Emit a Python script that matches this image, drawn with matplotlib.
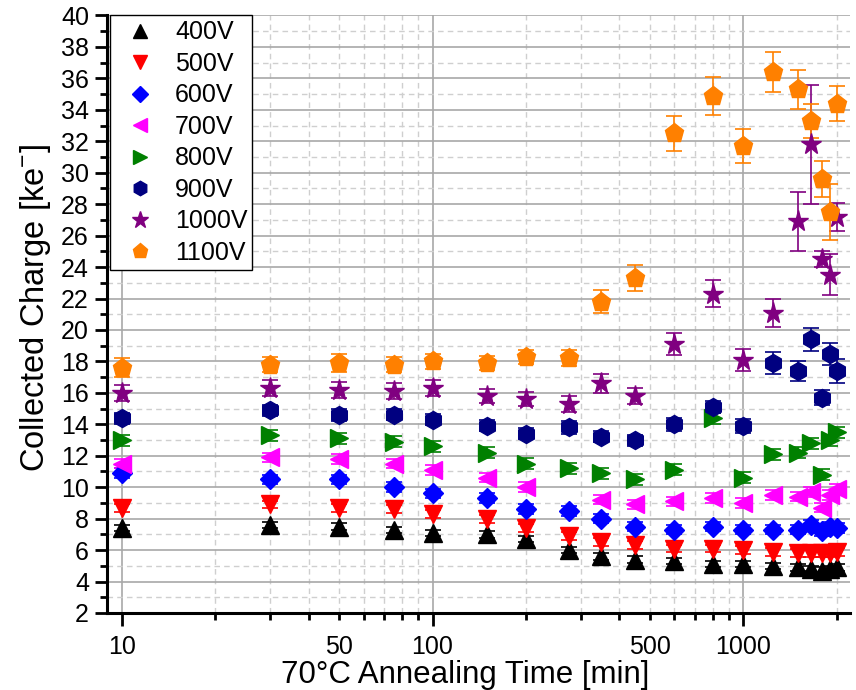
import numpy as np
import matplotlib
matplotlib.use("Agg")
import matplotlib.pyplot as plt
from matplotlib.lines import Line2D
from matplotlib.ticker import FixedLocator, FuncFormatter

plt.rcParams['font.family'] = ['Liberation Sans', 'DejaVu Sans']
plt.rcParams['mathtext.default'] = 'regular'

times = [10, 30, 50, 75, 100, 150, 200, 275, 350, 450, 600, 800, 1000, 1250, 1500, 1650, 1800, 1900, 2000]
nan = np.nan
q400 = [7.4, 7.6, 7.5, 7.3, 7.1, 7.0, 6.7, 6.0, 5.6, 5.4, 5.3, 5.1, 5.1, 5.0, 4.9, 4.8, 4.7, 4.8, 4.9]
q500 = [8.7, 8.9, 8.7, 8.6, 8.3, 8.0, 7.4, 6.9, 6.5, 6.3, 6.1, 6.1, 6.0, 5.9, 5.8, 5.8, 5.8, 5.8, 5.9]
q600 = [10.9, 10.5, 10.5, 10.0, 9.6, 9.3, 8.6, 8.5, 8.0, 7.5, 7.3, 7.5, 7.3, 7.3, 7.3, 7.6, 7.2, 7.5, 7.4]
q700 = [11.5, 11.9, 11.8, 11.5, 11.1, 10.6, 10.0, nan, 9.2, 8.9, 9.1, 9.3, 9.0, 9.5, 9.4, 9.7, 8.7, 9.5, 9.9]
q800 = [13.0, 13.3, 13.1, 12.9, 12.6, 12.2, 11.5, 11.2, 10.9, 10.5, 11.1, 14.4, 10.6, 12.1, 12.2, 12.8, 10.8, 13.0, 13.5]
q900 = [14.4, 14.9, 14.6, 14.6, 14.3, 13.9, 13.4, 13.8, 13.2, 13.0, 14.0, 15.1, 13.9, 17.9, 17.4, 19.4, 15.7, 18.5, 17.4]
q1000 = [16.0, 16.3, 16.2, 16.1, 16.3, 15.8, 15.6, 15.3, 16.6, 15.8, 19.1, 22.3, 18.1, 21.1, 26.9, 31.8, 24.5, 23.5, 27.2]
q1100 = [17.6, 17.8, 17.9, 17.8, 18.0, 17.9, 18.3, 18.2, 21.8, 23.3, 32.5, 34.9, 31.7, 36.4, 35.3, 33.3, 29.6, 27.5, 34.4]

e400 = [0.2] * 19
e500 = [0.25] * 19
e600 = [0.3] * 19
e700 = [0.3] * 19
e800 = [0.35] * 19
e900 = [0.35, 0.35, 0.4, 0.35, 0.35, 0.35, 0.35, 0.4, 0.35, 0.35, 0.4, 0.35, 0.45, 0.7, 0.65, 0.75, 0.45, 0.7, 0.75]
e1000 = [0.5, 0.5, 0.5, 0.5, 0.5, 0.45, 0.45, 0.5, 0.6, 0.5, 0.7, 0.85, 0.7, 0.9, 1.9, 3.8, 0.5, 1.3, 0.9]
e1100 = [0.6, 0.5, 0.6, 0.5, 0.5, 0.45, 0.45, 0.5, 0.75, 0.85, 1.1, 1.2, 1.1, 1.25, 1.25, 1.1, 1.15, 1.8, 1.1]

labels = ['400V', '500V', '600V', '700V', '800V', '900V', '1000V', '1100V']
values = [q400, q500, q600, q700, q800, q900, q1000, q1100]
errors = [e400, e500, e600, e700, e800, e900, e1000, e1100]
colors = ['#000000', '#ff0000', '#0000ff', '#ff00ff', '#008000', '#000080', '#800080', '#ff8000']
markers = ['^', 'v', 'D', '<', '>', 'h', '*', 'p']
msizes = [13, 13, 10.5, 13, 13, 13, 15.5, 14]

fig = plt.figure(figsize=(8.56, 6.9), dpi=100)
ax = fig.add_axes([0.125, 0.1116, 0.868, 0.866])

for lab, v, e, c, m, ms in zip(labels, values, errors, colors, markers, msizes):
    ax.errorbar(times, v, yerr=e, fmt=m, color=c, ms=ms, mec=c, ecolor=c,
                elinewidth=1.2, capsize=6, capthick=1.2, zorder=3)

ax.set_xscale('log')
ax.set_xlim(8.95, 2210)
ax.set_ylim(2, 40)

ax.xaxis.set_major_locator(FixedLocator([10, 100, 1000]))
minor_x = [k * d for d in (10, 100, 1000) for k in range(2, 10) if k * d < 2210]
ax.xaxis.set_minor_locator(FixedLocator(minor_x))
ax.xaxis.set_major_formatter(FuncFormatter(lambda v, p: '%d' % v))
ax.xaxis.set_minor_formatter(FuncFormatter(lambda v, p: '%d' % v if round(v) in (50, 500) else ''))

ax.yaxis.set_major_locator(FixedLocator(np.arange(2, 41, 2)))
ax.yaxis.set_minor_locator(FixedLocator(np.arange(3, 40, 2)))

ax.tick_params(axis='both', which='major', direction='out', length=9, width=2,
               labelsize=18, pad=4)
ax.tick_params(axis='both', which='minor', direction='out', length=5, width=2,
               labelsize=18, pad=4)
ax.tick_params(axis='x', which='major', pad=7)
ax.tick_params(axis='x', which='minor', pad=7 + 4 * 1.0)

for s in ('top', 'right'):
    ax.spines[s].set_visible(False)
for s in ('left', 'bottom'):
    ax.spines[s].set_linewidth(2.2)

ax.grid(True, which='major', color='#a8a8a8', linestyle='-', linewidth=1.2, zorder=0)
ax.grid(True, which='minor', color='#cfcfcf', linestyle=(0, (4, 3)), linewidth=1.0, zorder=0)
ax.set_axisbelow(True)

ax.set_xlabel('70°C Annealing Time [min]', fontsize=22.5)
ax.xaxis.set_label_coords(0.4825, -0.078)
ax.set_ylabel('Collected Charge [ke$^{-}$]', fontsize=23.5)
ax.yaxis.set_label_coords(-0.073, 0.511)

handles = [Line2D([], [], linestyle='none', marker=m, color=c, ms=ms * 0.8)
           for m, c, ms in zip(markers, colors, msizes)]
leg = ax.legend(handles, labels, loc='upper left', bbox_to_anchor=(0.004, 1.0),
                fontsize=18, frameon=True, fancybox=False, edgecolor='black',
                framealpha=1, borderaxespad=0.0, handletextpad=0.4,
                labelspacing=0.3, borderpad=0.2, handlelength=2.0)
leg.get_frame().set_linewidth(1.0)

fig.savefig('out.png', dpi=100)
